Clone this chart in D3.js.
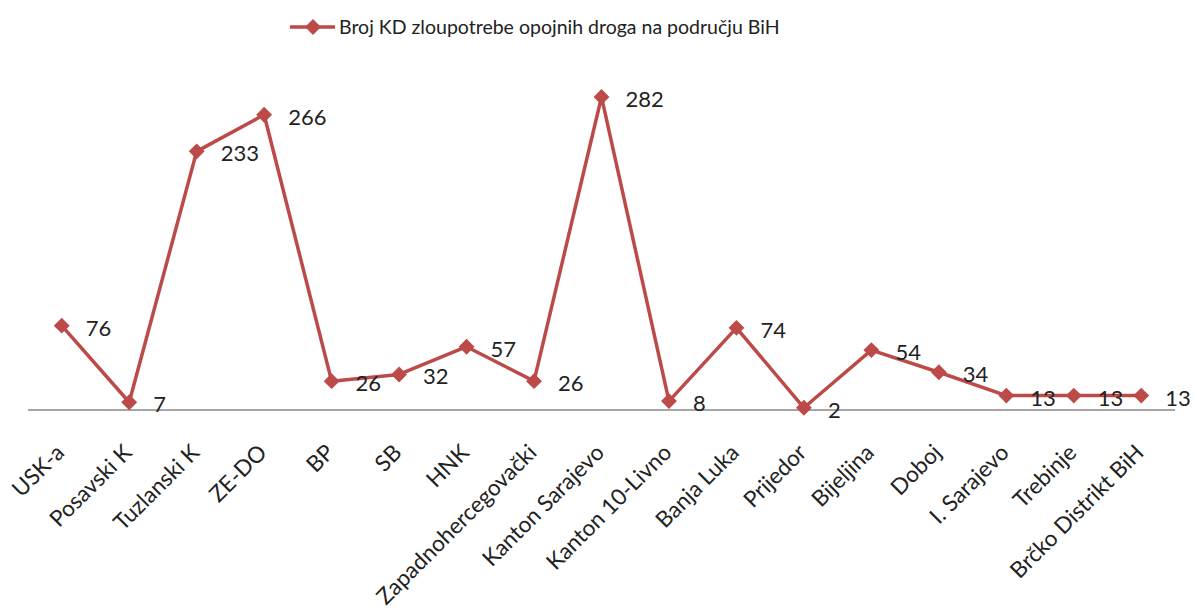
<!DOCTYPE html>
<html>
<head>
<meta charset="utf-8">
<script src="https://cdn.jsdelivr.net/npm/d3@7"></script>
<style>
  html, body { margin: 0; padding: 0; background: #fff; }
  svg { display: block; }
  text { font-family: Lato, "Open Sans", sans-serif; fill: #222; }
</style>
</head>
<body>
<svg id="chart" width="1197" height="610"></svg>
<script>
const categories = ["USK-a", "Posavski K", "Tuzlanski K", "ZE-DO", "BP", "SB", "HNK",
  "Zapadnohercegovački", "Kanton Sarajevo", "Kanton 10-Livno", "Banja Luka", "Prijedor",
  "Bijeljina", "Doboj", "I. Sarajevo", "Trebinje", "Brčko Distrikt BiH"];
const values = [76, 7, 233, 266, 26, 32, 57, 26, 282, 8, 74, 2, 54, 34, 13, 13, 13];
const seriesName = "Broj KD zloupotrebe opojnih droga na području BiH";

const W = 1197, H = 610;
const color = "#BB4A48";
const svg = d3.select("#chart");

const x = d3.scalePoint().domain(categories).range([28, 1175]).padding(0.5);
const y = d3.scaleLinear().domain([0, 300]).range([410, 77]);

// axis line (category axis, no ticks)
const xr = x.range();
svg.append("line")
  .attr("x1", xr[0]).attr("x2", xr[1])
  .attr("y1", y(0)).attr("y2", y(0))
  .attr("stroke", "#A6A6A6").attr("stroke-width", 2);

// category labels
svg.append("g").selectAll("text").data(categories).join("text")
  .attr("transform", d => `translate(${x(d) + 4},${y(0) + 44}) rotate(-45)`)
  .attr("text-anchor", "end")
  .attr("font-size", 22.5)
  .text(d => d);

// line
const data = categories.map((c, i) => ({ c, v: values[i] }));
svg.append("path").datum(data)
  .attr("fill", "none").attr("stroke", color).attr("stroke-width", 3.5)
  .attr("stroke-linejoin", "round")
  .attr("d", d3.line().x(d => x(d.c)).y(d => y(d.v)));

const diamond = d3.symbol().type(d3.symbolDiamond2).size(160);
svg.append("g").selectAll("path").data(data).join("path")
  .attr("transform", d => `translate(${x(d.c)},${y(d.v)})`)
  .attr("d", diamond).attr("fill", color);

// data labels
svg.append("g").selectAll("text").data(data).join("text")
  .attr("x", d => x(d.c) + 24)
  .attr("y", d => y(d.v) + 10)
  .attr("font-size", 22)
  .text(d => d.v);

// legend
const lg = svg.append("g");
lg.append("line").attr("x1", 290).attr("x2", 335).attr("y1", 27).attr("y2", 27)
  .attr("stroke", color).attr("stroke-width", 3.5);
lg.append("path").attr("transform", "translate(313,27)").attr("d", diamond).attr("fill", color);
lg.append("text").attr("x", 339).attr("y", 34).attr("font-size", 19.5).text(seriesName);
</script>
</body>
</html>
